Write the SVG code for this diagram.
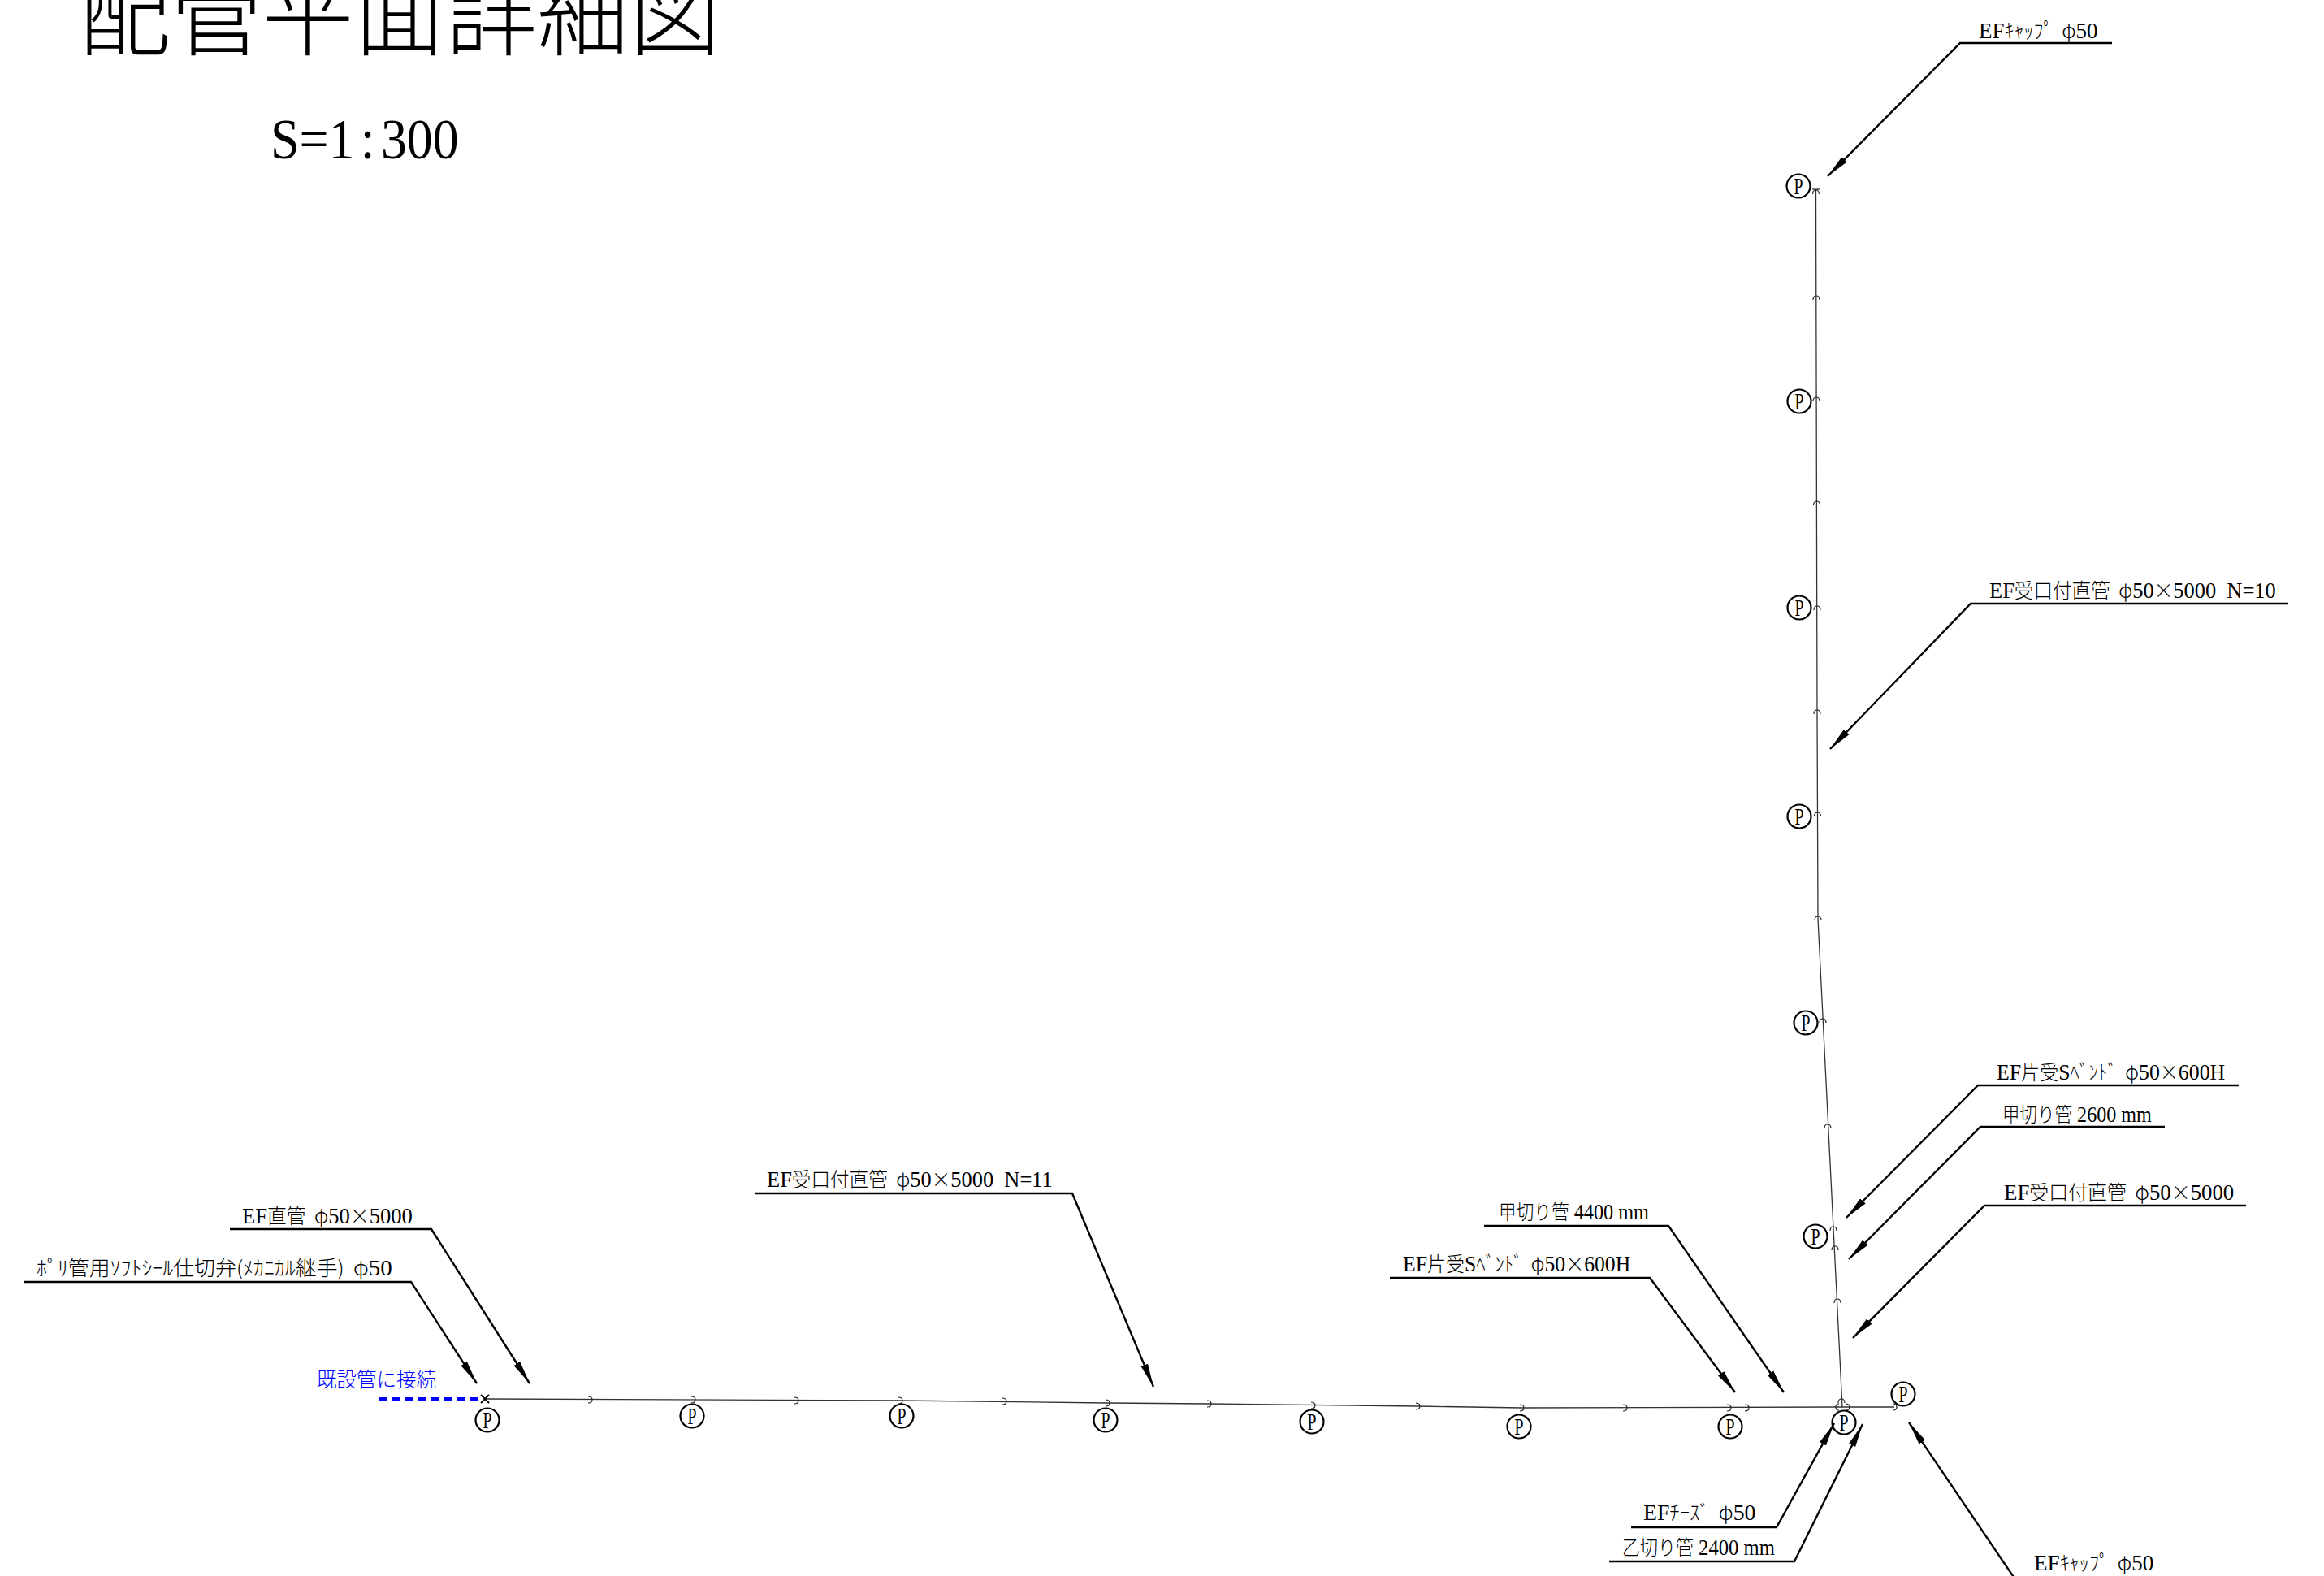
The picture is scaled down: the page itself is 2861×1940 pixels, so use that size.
<svg xmlns="http://www.w3.org/2000/svg" xmlns:xlink="http://www.w3.org/1999/xlink" width="2861" height="1940" viewBox="0 0 2861 1940">
<style>
text{font-family:"Liberation Serif","Noto Sans CJK JP",serif;fill:#000;white-space:pre}
.lb{font-size:28px}
.k{font-family:"Noto Sans CJK JP","Liberation Serif",sans-serif;font-size:25px;font-weight:300}
.pt{font-size:30px}
.ttl{font-family:"Noto Sans CJK JP",serif;font-size:114px;font-weight:300}
.scale{font-size:70px}
.blue{fill:#0000ff}
.leader{fill:none;stroke:#000;stroke-width:2.4;stroke-linejoin:miter;marker-end:url(#head)}
.pipe{fill:none;stroke:#333;stroke-width:1.3}
.tick{fill:none;stroke:#222;stroke-width:1.2}
.pc{fill:none;stroke:#000;stroke-width:2.2}
</style>
<defs>
<marker id="head" markerUnits="userSpaceOnUse" markerWidth="32" markerHeight="14" refX="29" refY="6" orient="auto"><path d="M0,1.5L29,6L0,10.5z" fill="#000"/></marker>
<path id="th" class="tick" d="M-2,-4Q3,-4 3,0Q3,4 -2,4"/>
<path id="tv" class="tick" d="M-4,2Q-4,-3 0,-3Q4,-3 4,2"/>
</defs>
<g id="title">
<text class="ttl" x="97" y="59" textLength="790" lengthAdjust="spacingAndGlyphs">配管平面詳細図</text>
<text class="scale" transform="translate(333 195) scale(.913 1)">S=1<tspan dx="8">:</tspan><tspan dx="8">300</tspan></text>
</g>
<g id="connectors">
<polyline class="pipe" points="597,1722 1108,1724 1363,1727 1488,1728 1745,1731 1873,1733 2268,1732 2332,1732"/>
<polyline class="pipe" points="2235.5,233 2237,877 2238,1131 2268,1732"/>
<path d="M467,1722H592" fill="none" stroke="#0000ff" stroke-width="4" stroke-dasharray="9 7"/>
<path d="M592,1717L602,1727M602,1717L592,1727" fill="none" stroke="#000" stroke-width="1.8"/>
<path class="tick" d="M2231,233H2240"/>
<g id="ticks-h">
<use xlink:href="#th" href="#th" x="726" y="1723"/><use xlink:href="#th" href="#th" x="853" y="1723"/><use xlink:href="#th" href="#th" x="980" y="1724"/><use xlink:href="#th" href="#th" x="1108" y="1724"/><use xlink:href="#th" href="#th" x="1236" y="1725"/><use xlink:href="#th" href="#th" x="1363" y="1727"/><use xlink:href="#th" href="#th" x="1488" y="1728"/><use xlink:href="#th" href="#th" x="1616" y="1730"/><use xlink:href="#th" href="#th" x="1745" y="1731"/><use xlink:href="#th" href="#th" x="1873" y="1733"/><use xlink:href="#th" href="#th" x="2000" y="1733"/><use xlink:href="#th" href="#th" x="2128" y="1733"/><use xlink:href="#th" href="#th" x="2150" y="1733"/><use xlink:href="#th" href="#th" x="2274" y="1732"/><use xlink:href="#th" href="#th" x="2332" y="1732"/>
<path class="tick" d="M2264,1728Q2260,1728 2260,1732Q2260,1736 2264,1736"/>
</g>
<g id="ticks-v">
<use xlink:href="#tv" href="#tv" x="2235.5" y="237"/><use xlink:href="#tv" href="#tv" x="2236" y="367"/><use xlink:href="#tv" href="#tv" x="2236" y="492"/><use xlink:href="#tv" href="#tv" x="2236.5" y="620"/><use xlink:href="#tv" href="#tv" x="2237" y="749"/><use xlink:href="#tv" href="#tv" x="2237" y="877"/><use xlink:href="#tv" href="#tv" x="2237.5" y="1003"/><use xlink:href="#tv" href="#tv" x="2238" y="1131"/><use xlink:href="#tv" href="#tv" x="2244" y="1257"/><use xlink:href="#tv" href="#tv" x="2250" y="1387"/><use xlink:href="#tv" href="#tv" x="2257" y="1513"/><use xlink:href="#tv" href="#tv" x="2259" y="1537"/><use xlink:href="#tv" href="#tv" x="2262" y="1602"/><use xlink:href="#tv" href="#tv" x="2267" y="1725"/>
</g>
<polyline class="leader" points="2600,53 2413,53 2250,217"/>
<polyline class="leader" points="2817,743 2426,743 2253,922"/>
<polyline class="leader" points="2756,1336 2435,1336 2273,1499"/>
<polyline class="leader" points="2665,1387 2438,1387 2276,1550"/>
<polyline class="leader" points="2765,1484 2443,1484 2281,1647"/>
<polyline class="leader" points="1827,1509 2054,1509 2196,1714"/>
<polyline class="leader" points="1711,1573 2031,1573 2136,1714"/>
<polyline class="leader" points="929,1469 1320,1469 1420,1707"/>
<polyline class="leader" points="283,1513 531,1513 652,1703"/>
<polyline class="leader" points="30,1578 506,1578 587,1703"/>
<polyline class="leader" points="2008,1880 2187,1880 2258,1752"/>
<polyline class="leader" points="1981,1922 2209,1922 2293,1753"/>
<polyline class="leader" points="2495,1965 2350,1751"/>
</g>
<g id="label-cap-top"><text class="lb" transform="translate(2436 47) scale(.962 1)">EF<tspan class="k">ｷｬｯﾌﾟ  φ</tspan>50</text></g>
<g id="label-n10"><text class="lb" transform="translate(2449 736) scale(.944 1)">EF<tspan class="k">受口付直管  φ</tspan>50<tspan class="k">×</tspan>5000  N=10</text></g>
<g id="label-sbend-v"><text class="lb" transform="translate(2458 1329) scale(.922 1)">EF<tspan class="k">片受</tspan>S<tspan class="k">ﾍﾞﾝﾄﾞ  φ</tspan>50<tspan class="k">×</tspan>600H</text></g>
<g id="label-2600"><text class="lb" transform="translate(2465 1381) scale(.861 1)"><tspan class="k">甲切り管</tspan> 2600 mm</text></g>
<g id="label-5000"><text class="lb" transform="translate(2467 1477) scale(.958 1)">EF<tspan class="k">受口付直管  φ</tspan>50<tspan class="k">×</tspan>5000</text></g>
<g id="label-4400"><text class="lb" transform="translate(1845 1501) scale(.866 1)"><tspan class="k">甲切り管</tspan> 4400 mm</text></g>
<g id="label-sbend-h"><text class="lb" transform="translate(1727 1565) scale(.919 1)">EF<tspan class="k">片受</tspan>S<tspan class="k">ﾍﾞﾝﾄﾞ  φ</tspan>50<tspan class="k">×</tspan>600H</text></g>
<g id="label-n11"><text class="lb" transform="translate(944 1461) scale(.944 1)">EF<tspan class="k">受口付直管  φ</tspan>50<tspan class="k">×</tspan>5000  N=11</text></g>
<g id="label-straight"><text class="lb" transform="translate(298 1506) scale(.951 1)">EF<tspan class="k">直管  φ</tspan>50<tspan class="k">×</tspan>5000</text></g>
<g id="label-valve"><text class="lb" transform="translate(45 1570) scale(1.036 1)"><tspan class="k">ﾎﾟﾘ管用ｿﾌﾄｼｰﾙ仕切弁(ﾒｶﾆｶﾙ継手)  φ</tspan>50</text></g>
<g id="label-existing"><text class="lb blue k" transform="translate(390 1707) scale(.98 1)">既設管に接続</text></g>
<g id="label-tee"><text class="lb" transform="translate(2023 1871) scale(.99 1)">EF<tspan class="k">ﾁｰｽﾞ  φ</tspan>50</text></g>
<g id="label-2400"><text class="lb" transform="translate(1997 1914) scale(.88 1)"><tspan class="k">乙切り管</tspan> 2400 mm</text></g>
<g id="label-cap-bottom"><text class="lb" transform="translate(2504 1933) scale(.968 1)">EF<tspan class="k">ｷｬｯﾌﾟ  φ</tspan>50</text></g>
<g id="p1"><circle class="pc" cx="600" cy="1748" r="14.5"/><text class="pt" x="594.5" y="1758" textLength="11" lengthAdjust="spacingAndGlyphs">P</text></g>
<g id="p2"><circle class="pc" cx="852" cy="1743" r="14.5"/><text class="pt" x="846.5" y="1753" textLength="11" lengthAdjust="spacingAndGlyphs">P</text></g>
<g id="p3"><circle class="pc" cx="1110" cy="1743" r="14.5"/><text class="pt" x="1104.5" y="1753" textLength="11" lengthAdjust="spacingAndGlyphs">P</text></g>
<g id="p4"><circle class="pc" cx="1361" cy="1748" r="14.5"/><text class="pt" x="1355.5" y="1758" textLength="11" lengthAdjust="spacingAndGlyphs">P</text></g>
<g id="p5"><circle class="pc" cx="1615" cy="1750" r="14.5"/><text class="pt" x="1609.5" y="1760" textLength="11" lengthAdjust="spacingAndGlyphs">P</text></g>
<g id="p6"><circle class="pc" cx="1870" cy="1756" r="14.5"/><text class="pt" x="1864.5" y="1766" textLength="11" lengthAdjust="spacingAndGlyphs">P</text></g>
<g id="p7"><circle class="pc" cx="2130" cy="1756" r="14.5"/><text class="pt" x="2124.5" y="1766" textLength="11" lengthAdjust="spacingAndGlyphs">P</text></g>
<g id="p8"><circle class="pc" cx="2270" cy="1751" r="14.5"/><text class="pt" x="2264.5" y="1761" textLength="11" lengthAdjust="spacingAndGlyphs">P</text></g>
<g id="p9"><circle class="pc" cx="2343" cy="1716" r="14.5"/><text class="pt" x="2337.5" y="1726" textLength="11" lengthAdjust="spacingAndGlyphs">P</text></g>
<g id="p10"><circle class="pc" cx="2235" cy="1522" r="14.5"/><text class="pt" x="2229.5" y="1532" textLength="11" lengthAdjust="spacingAndGlyphs">P</text></g>
<g id="p11"><circle class="pc" cx="2223" cy="1259" r="14.5"/><text class="pt" x="2217.5" y="1269" textLength="11" lengthAdjust="spacingAndGlyphs">P</text></g>
<g id="p12"><circle class="pc" cx="2215" cy="1005" r="14.5"/><text class="pt" x="2209.5" y="1015" textLength="11" lengthAdjust="spacingAndGlyphs">P</text></g>
<g id="p13"><circle class="pc" cx="2215" cy="748" r="14.5"/><text class="pt" x="2209.5" y="758" textLength="11" lengthAdjust="spacingAndGlyphs">P</text></g>
<g id="p14"><circle class="pc" cx="2215" cy="494" r="14.5"/><text class="pt" x="2209.5" y="504" textLength="11" lengthAdjust="spacingAndGlyphs">P</text></g>
<g id="p15"><circle class="pc" cx="2214" cy="229" r="14.5"/><text class="pt" x="2208.5" y="239" textLength="11" lengthAdjust="spacingAndGlyphs">P</text></g>
</svg>
